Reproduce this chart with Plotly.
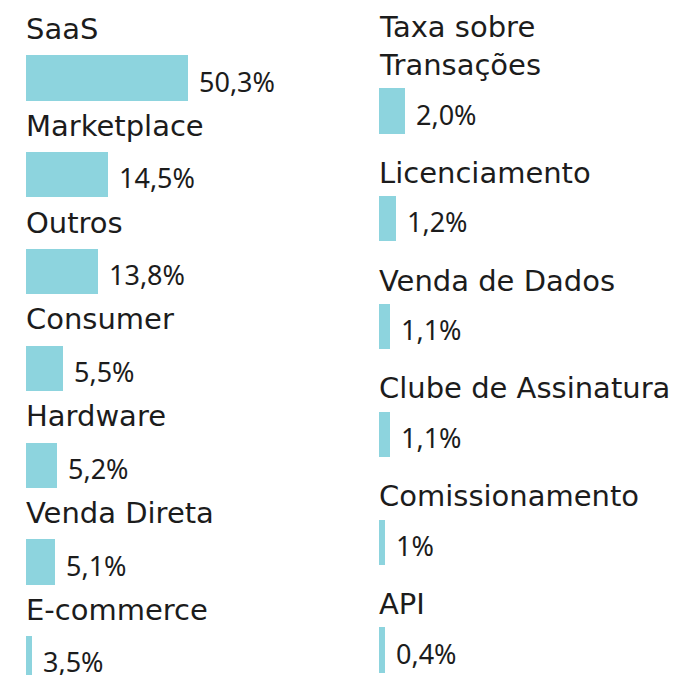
import plotly.graph_objects as go

# ---- data ----
left_categories = ["SaaS", "Marketplace", "Outros", "Consumer", "Hardware", "Venda Direta", "E-commerce"]
left_value_labels = ["50,3%", "14,5%", "13,8%", "5,5%", "5,2%", "5,1%", "3,5%"]
# bar lengths as drawn in the source infographic (same units as SaaS = 50.3)
left_bar_lengths = [50.3, 25.6, 22.5, 11.5, 9.5, 8.9, 1.9]

right_categories = ["Taxa sobre<br>Transações", "Licenciamento", "Venda de Dados",
                    "Clube de Assinatura", "Comissionamento", "API"]
right_value_labels = ["2,0%", "1,2%", "1,1%", "1,1%", "1%", "0,4%"]
right_bar_lengths = [8.0, 5.3, 3.3, 3.3, 1.9, 1.8]

BAR_COLOR = "#8DD4DE"
TEXT_COLOR = "#1c1c1c"
CAT_FONT = "DejaVu Sans, sans-serif"
VAL_FONT = "Noto Sans, Open Sans, sans-serif"
CAT_SIZE = 29
VAL_SIZE = 27

# page has an 8px body margin; figure fills the rest of the 677x675 window
OFF = 8
W, H = 677 - OFF, 675 - OFF
PX_PER_UNIT = 162 / 50.3

fig = go.Figure()

fig.add_trace(go.Bar(
    x=left_bar_lengths, y=list(range(len(left_categories))), orientation="h",
    marker=dict(color=BAR_COLOR, line=dict(width=0)), width=0.465,
    xaxis="x", yaxis="y", hoverinfo="skip", showlegend=False,
))
fig.add_trace(go.Bar(
    x=right_bar_lengths, y=list(range(len(right_categories))), orientation="h",
    marker=dict(color=BAR_COLOR, line=dict(width=0)), width=0.42,
    xaxis="x2", yaxis="y2", hoverinfo="skip", showlegend=False,
))

annotations = []
for axis_x, axis_y, cats, labels, lens, cat_shift in [
    ("x", "y", left_categories, left_value_labels, left_bar_lengths, 30),
    ("x2", "y2", right_categories, right_value_labels, right_bar_lengths, 27),
]:
    for i, (c, lab, v) in enumerate(zip(cats, labels, lens)):
        annotations.append(dict(
            x=0, y=i, xref=axis_x, yref=axis_y, text=c, showarrow=False,
            xanchor="left", yanchor="bottom", xshift=-2, yshift=cat_shift,
            align="left", font=dict(family=CAT_FONT, size=CAT_SIZE, color=TEXT_COLOR),
        ))
        annotations.append(dict(
            x=v, y=i, xref=axis_x, yref=axis_y, text=lab, showarrow=False,
            xanchor="left", yanchor="middle", xshift=9, yshift=-3,
            font=dict(family=VAL_FONT, size=VAL_SIZE, color=TEXT_COLOR),
        ))

left_dom = [(26 - OFF) / W, 0.5]
right_dom = [(379 - OFF) / W, 1.0]
left_R = (left_dom[1] - left_dom[0]) * W / PX_PER_UNIT
right_R = (right_dom[1] - right_dom[0]) * W / PX_PER_UNIT

# vertical scales: left rows every ~96.8 px, right rows every ~107.8 px
l_step, l_first = 96.8, 78 - OFF
r_step, r_first = 107.8, 111 - OFF
l_top = -l_first / l_step
r_top = -r_first / r_step

fig.update_layout(
    width=W, height=H, margin=dict(l=0, r=0, t=0, b=0),
    paper_bgcolor="white", plot_bgcolor="white",
    bargap=0,
    xaxis=dict(domain=left_dom, range=[0, left_R], visible=False, fixedrange=True),
    yaxis=dict(domain=[0, 1], range=[l_top + H / l_step, l_top], visible=False, fixedrange=True),
    xaxis2=dict(domain=right_dom, range=[0, right_R], visible=False, fixedrange=True),
    yaxis2=dict(domain=[0, 1], range=[r_top + H / r_step, r_top], visible=False,
                anchor="x2", fixedrange=True),
    annotations=annotations,
)

fig.write_html("out.html", config={"displayModeBar": False})
